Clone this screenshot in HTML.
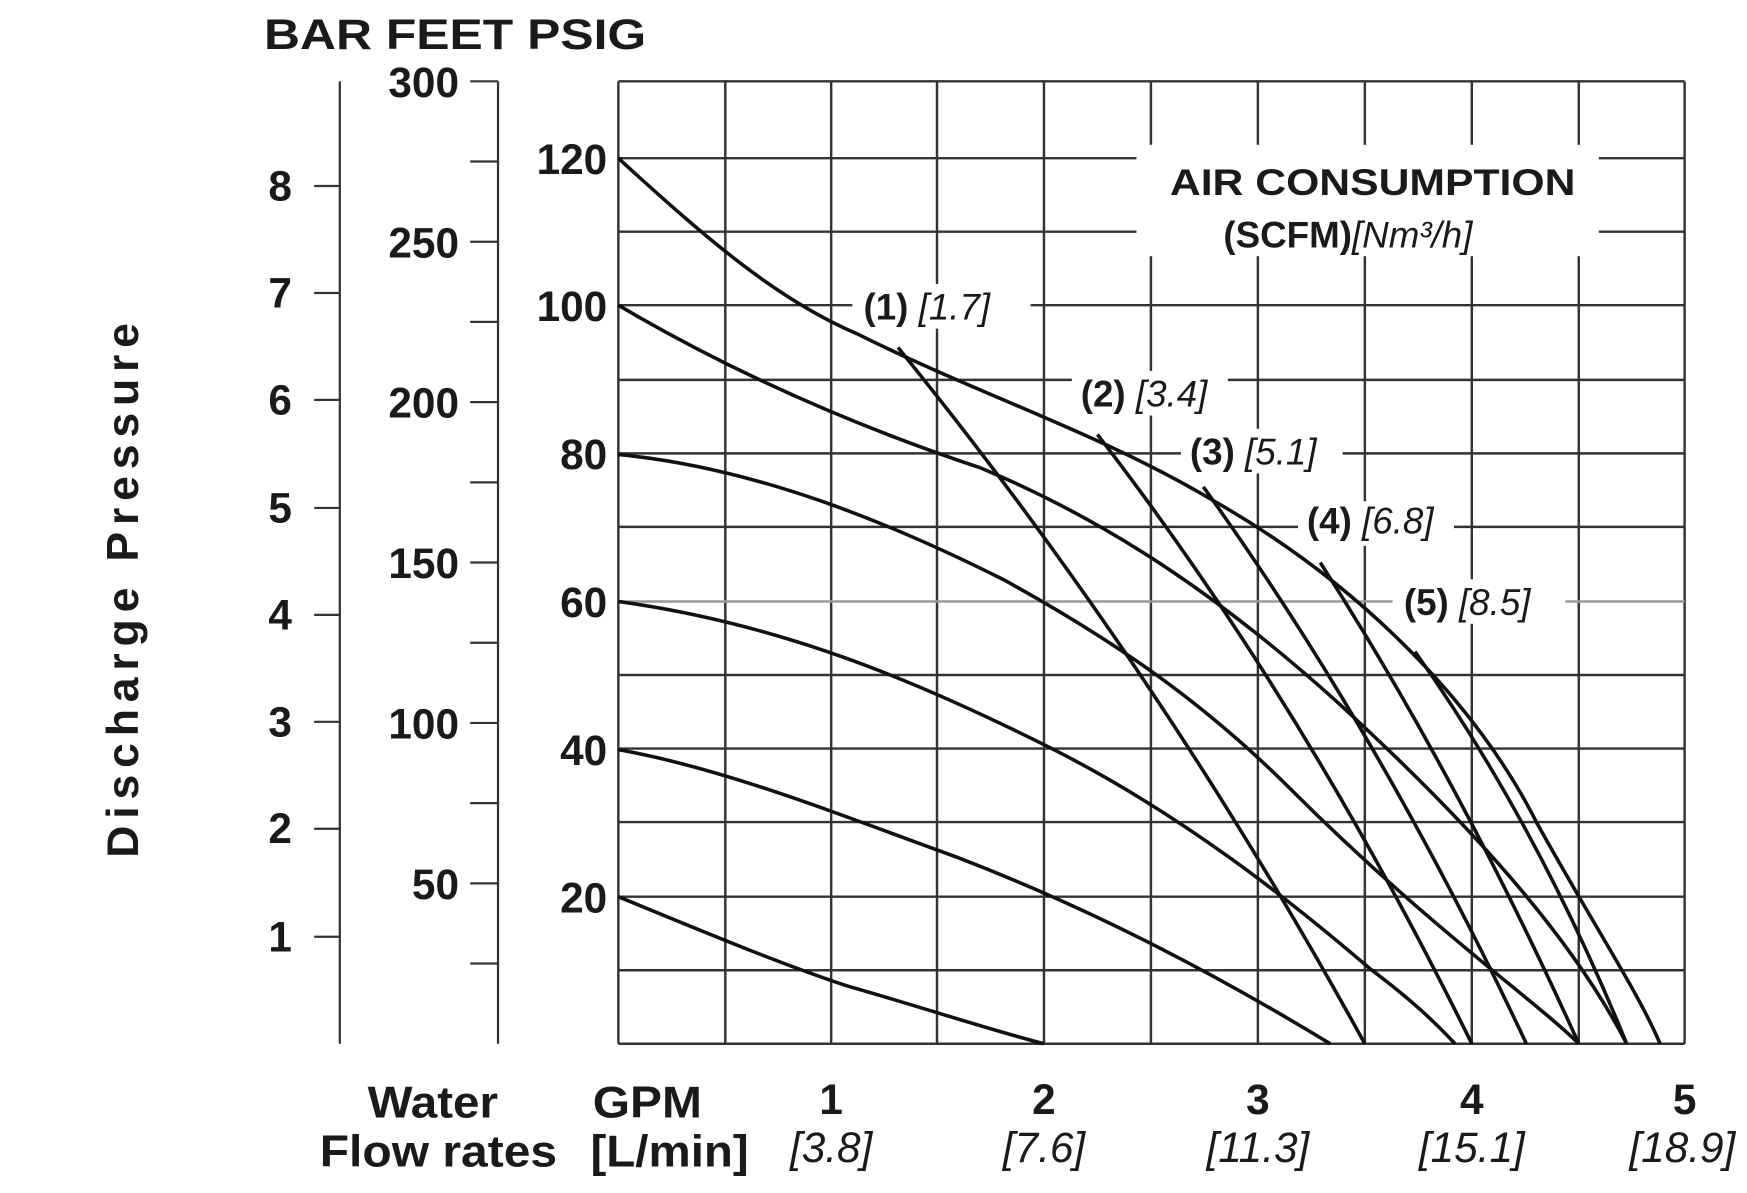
<!DOCTYPE html>
<html><head><meta charset="utf-8"><style>
html,body{margin:0;padding:0;background:#fff;}
svg{display:block;}
text{font-family:"Liberation Sans",Arial,sans-serif;fill:#1a1a1a;}
.b{font-weight:bold;}
</style></head><body>
<svg width="1747" height="1193" viewBox="0 0 1568 1071" preserveAspectRatio="none" xmlns="http://www.w3.org/2000/svg">
<rect width="1568" height="1071" fill="#fff"/>
<g stroke="#333" stroke-width="2.2">
<line x1="555" y1="73" x2="555" y2="937"/>
<line x1="651" y1="73" x2="651" y2="937"/>
<line x1="746" y1="73" x2="746" y2="937"/>
<line x1="841" y1="73" x2="841" y2="937"/>
<line x1="937" y1="73" x2="937" y2="937"/>
<line x1="1033" y1="73" x2="1033" y2="937"/>
<line x1="1129" y1="73" x2="1129" y2="937"/>
<line x1="1225" y1="73" x2="1225" y2="937"/>
<line x1="1321" y1="73" x2="1321" y2="937"/>
<line x1="1417" y1="73" x2="1417" y2="937"/>
<line x1="1512" y1="73" x2="1512" y2="937"/>
<line x1="555" y1="73" x2="1512" y2="73"/>
<line x1="555" y1="937" x2="1512" y2="937"/>
<line x1="555" y1="871" x2="1512" y2="871"/>
<line x1="555" y1="805" x2="1512" y2="805"/>
<line x1="555" y1="738" x2="1512" y2="738"/>
<line x1="555" y1="672" x2="1512" y2="672"/>
<line x1="555" y1="606" x2="1512" y2="606"/>
<line x1="555" y1="540" x2="1512" y2="540" stroke="#999"/>
<line x1="555" y1="473" x2="1512" y2="473"/>
<line x1="555" y1="407" x2="1512" y2="407"/>
<line x1="555" y1="341" x2="1512" y2="341"/>
<line x1="555" y1="274" x2="1512" y2="274"/>
<line x1="555" y1="208" x2="1512" y2="208"/>
<line x1="555" y1="142" x2="1512" y2="142"/>
</g>
<g fill="#fff">
<rect x="1020" y="130" width="415" height="100"/>
<rect x="765" y="255" width="160" height="40"/>
<rect x="962" y="333" width="140" height="40"/>
<rect x="1060" y="385" width="145" height="40"/>
<rect x="1165" y="450" width="140" height="40"/>
<rect x="1250" y="520" width="155" height="40"/>
</g>
<text class="b" x="1050" y="175" font-size="33" textLength="364" lengthAdjust="spacingAndGlyphs">AIR CONSUMPTION</text>
<text x="1098" y="222" font-size="33"><tspan class="b">(SCFM)</tspan><tspan font-style="italic">[Nm³/h]</tspan></text>
<text x="775" y="287" font-size="33"><tspan class="b">(1)</tspan> <tspan font-style="italic">[1.7]</tspan></text>
<text x="970" y="365" font-size="33"><tspan class="b">(2)</tspan> <tspan font-style="italic">[3.4]</tspan></text>
<text x="1068" y="417" font-size="33"><tspan class="b">(3)</tspan> <tspan font-style="italic">[5.1]</tspan></text>
<text x="1173" y="479" font-size="33"><tspan class="b">(4)</tspan> <tspan font-style="italic">[6.8]</tspan></text>
<text x="1260" y="552" font-size="33"><tspan class="b">(5)</tspan> <tspan font-style="italic">[8.5]</tspan></text>
<g fill="none" stroke="#111" stroke-width="3.2">
<path d="M555,142 C640,220 700,270 770,300 C880,355 990,390 1090,450 C1230,530 1330,640 1380,740 C1430,830 1470,890 1490,937"/>
<path d="M555,274 C650,330 760,380 880,420 C1000,470 1100,540 1200,630 C1320,740 1410,840 1460,937"/>
<path d="M555,408 C680,420 800,470 900,520 C1000,575 1080,630 1160,710 C1280,830 1380,900 1417,937"/>
<path d="M555,540 C700,560 820,610 940,670 C1060,730 1160,810 1230,870 C1270,900 1290,920 1306,937"/>
<path d="M555,673 C650,690 750,730 860,770 C990,820 1100,880 1194,937"/>
<path d="M555,805 C640,840 700,865 760,885 C830,905 890,925 937,937"/>
<path d="M806,312 Q1040,600 1225,937"/>
<path d="M985,390 Q1170,630 1321,937"/>
<path d="M1080,437 Q1240,660 1370,937"/>
<path d="M1185,505 Q1310,700 1417,937"/>
<path d="M1270,585 Q1380,740 1460,937"/>
</g>
<g stroke="#333" stroke-width="2">
<line x1="305" y1="73" x2="305" y2="937"/>
<line x1="282" y1="167" x2="305" y2="167"/>
<line x1="282" y1="263" x2="305" y2="263"/>
<line x1="282" y1="359" x2="305" y2="359"/>
<line x1="282" y1="456" x2="305" y2="456"/>
<line x1="282" y1="552" x2="305" y2="552"/>
<line x1="282" y1="648" x2="305" y2="648"/>
<line x1="282" y1="744" x2="305" y2="744"/>
<line x1="282" y1="841" x2="305" y2="841"/>
<line x1="447" y1="73" x2="447" y2="937"/>
<line x1="422" y1="73" x2="447" y2="73"/>
<line x1="422" y1="145" x2="447" y2="145"/>
<line x1="422" y1="217" x2="447" y2="217"/>
<line x1="422" y1="289" x2="447" y2="289"/>
<line x1="422" y1="361" x2="447" y2="361"/>
<line x1="422" y1="433" x2="447" y2="433"/>
<line x1="422" y1="505" x2="447" y2="505"/>
<line x1="422" y1="577" x2="447" y2="577"/>
<line x1="422" y1="649" x2="447" y2="649"/>
<line x1="422" y1="721" x2="447" y2="721"/>
<line x1="422" y1="793" x2="447" y2="793"/>
<line x1="422" y1="865" x2="447" y2="865"/>
</g>
<g font-size="38" text-anchor="end">
<text class="b" x="262" y="180">8</text><text class="b" x="262" y="276">7</text><text class="b" x="262" y="372">6</text><text class="b" x="262" y="469">5</text><text class="b" x="262" y="565">4</text><text class="b" x="262" y="661">3</text><text class="b" x="262" y="757">2</text><text class="b" x="262" y="854">1</text>
<text class="b" x="412" y="87">300</text><text class="b" x="412" y="231">250</text><text class="b" x="412" y="375">200</text><text class="b" x="412" y="519">150</text><text class="b" x="412" y="663">100</text><text class="b" x="412" y="807">50</text>
<text class="b" x="545" y="156">120</text><text class="b" x="545" y="288">100</text><text class="b" x="545" y="421">80</text><text class="b" x="545" y="554">60</text><text class="b" x="545" y="687">40</text><text class="b" x="545" y="819">20</text>
</g>
<text class="b" x="237" y="44" font-size="38" textLength="343" lengthAdjust="spacingAndGlyphs">BAR FEET PSIG</text>
<text class="b" x="0" y="0" font-size="40" transform="translate(124,530) rotate(-90)" text-anchor="middle" textLength="480" lengthAdjust="spacing">Discharge Pressure</text>
<g font-size="40">
<text class="b" x="330" y="1003" textLength="117" lengthAdjust="spacingAndGlyphs">Water</text>
<text class="b" x="287" y="1047" textLength="213" lengthAdjust="spacingAndGlyphs">Flow rates</text>
<text class="b" x="532" y="1003" textLength="98" lengthAdjust="spacingAndGlyphs">GPM</text>
<text class="b" x="530" y="1047" textLength="142" lengthAdjust="spacingAndGlyphs">[L/min]</text>
</g>
<g font-size="38" text-anchor="middle">
<text class="b" x="746" y="1000">1</text><text class="b" x="937" y="1000">2</text><text class="b" x="1129" y="1000">3</text><text class="b" x="1321" y="1000">4</text><text class="b" x="1512" y="1000">5</text>
</g>
<g font-size="38" font-style="italic" text-anchor="middle">
<text x="746" y="1043">[3.8]</text><text x="937" y="1043">[7.6]</text><text x="1129" y="1043">[11.3]</text><text x="1321" y="1043">[15.1]</text><text x="1510" y="1043">[18.9]</text>
</g>
</svg>
</body></html>
